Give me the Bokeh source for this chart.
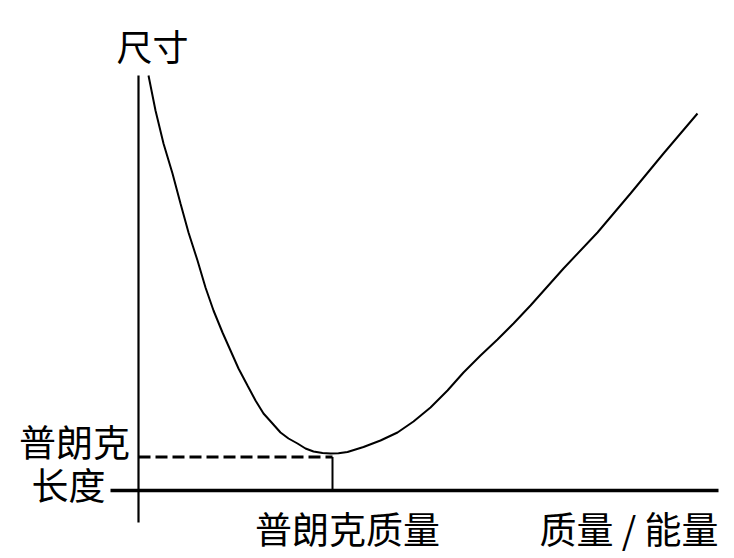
from bokeh.plotting import figure
from bokeh.models import Range1d, Label
from bokeh.embed import file_html
from bokeh.resources import INLINE

# Curve: mass/energy (x) vs size (y), arbitrary units
mass = [1.1, 1.8, 2.6, 3.5, 4.3, 5.1, 6.0, 6.8, 7.6, 8.5, 9.3, 10.1, 11.0,
        11.8, 12.6, 13.5, 14.3, 15.1, 16.0, 16.8, 17.6, 18.5, 19.3, 20.1,
        21.0, 22.6, 24.3, 26.0, 27.6, 29.3, 31.0, 32.6, 34.3, 36.0, 37.6,
        39.3, 42.6, 46.0, 49.3, 52.6, 56.0]
size = [41.5, 38.0, 34.7, 31.7, 28.7, 25.8, 23.0, 20.3, 18.0, 15.8, 14.0,
        12.2, 10.5, 9.0, 7.7, 6.7, 5.8, 5.2, 4.7, 4.2, 3.9, 3.75, 3.7, 3.72,
        3.85, 4.35, 5.0, 5.8, 6.9, 8.3, 10.0, 11.8, 13.5, 15.1, 16.7, 18.5,
        22.2, 25.8, 29.7, 33.7, 37.7]

planck_mass = 19.5
planck_length = 3.35

label_y = "尺寸"
label_x = "质量 / 能量"
label_pm = "普朗克质量"
label_pl = ["普朗克", "长度"]

FONT = "Noto Sans CJK SC"

p = figure(width=726, height=558, output_backend="svg", toolbar_location=None,
           x_range=Range1d(-13.7, 58.9), y_range=Range1d(-6.8, 49.0),
           x_axis_location=None, y_axis_location=None, min_border=0)
p.grid.visible = False
p.outline_line_color = None
p.background_fill_color = "white"
p.border_fill_color = "white"

# axes drawn as lines
p.line([-2.7, 58.1], [0, 0], line_color="black", line_width=3.3)
p.line([0.1, 0.1], [-3.2, 41.5], line_color="black", line_width=2.2)

# curve
p.line(mass, size, line_color="black", line_width=2)

# Planck markers
p.line([0.1, planck_mass], [planck_length, planck_length], line_color="black",
       line_width=2.8, line_dash="12 5")
p.line([planck_mass, planck_mass], [0, planck_length], line_color="black", line_width=2)

def lab(x, y, t, size="36px", align="center"):
    p.add_layout(Label(x=x, y=y, text=t, text_font=FONT, text_font_size=size,
                       text_align=align, text_baseline="middle", text_color="black"))

lab(1.5, 44.6, label_y, "36px")
lab(-6.3, 5.0, label_pl[0], "37px")
lab(-6.9, 0.7, label_pl[1], "37px")
lab(21.0, -3.7, label_pm, "37px")
lab(58.1, -3.7, label_x, "37px", align="right")

open("out.html", "w").write(file_html(p, INLINE))
